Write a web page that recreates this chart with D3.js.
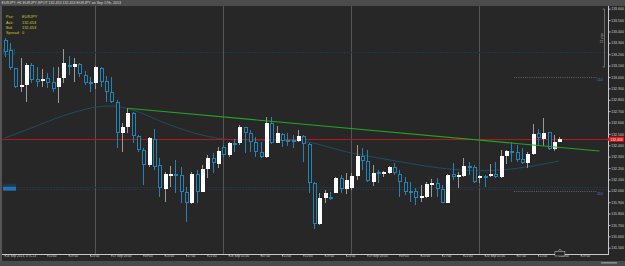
<!DOCTYPE html>
<html><head><meta charset="utf-8">
<script src="https://cdn.jsdelivr.net/npm/d3@7/dist/d3.min.js"></script>
<style>
html,body{margin:0;padding:0;background:#272727;overflow:hidden}
svg{display:block}
text{font-family:"Liberation Sans",Arial,sans-serif}
</style></head><body>
<svg id="c" width="625" height="266"></svg>
<script>
// ---- data (EURJPY H1) ----
const opens=[133.325,133.237,133.076,132.915,132.930,133.105,132.980,132.965,132.989,132.953,
132.915,132.994,133.105,133.090,133.111,133.017,132.953,132.945,133.076,132.965,
132.865,132.783,132.505,132.563,132.686,132.484,132.358,132.227,132.455,132.227,
132.016,132.133,132.148,132.139,131.992,131.890,132.148,131.992,132.191,132.286,
132.235,132.382,132.314,132.423,132.417,132.558,132.505,132.426,132.338,132.294,
132.598,132.423,132.499,132.449,132.449,132.440,132.481,132.409,132.066,131.708,
131.934,131.948,131.983,132.110,132.013,132.022,132.130,132.306,132.262,132.080,
132.168,132.148,132.159,132.212,132.148,132.080,132.001,132.001,131.939,131.948,
132.060,132.066,132.016,131.895,132.148,132.124,132.133,132.220,132.212,132.115,
132.133,132.130,132.148,132.119,132.306,132.352,132.344,132.277,132.241,132.321,
132.505,132.452,132.514,132.365,132.431];
const highs=[133.345,133.296,133.079,133.164,133.120,133.120,133.085,133.068,133.038,133.090,
133.090,133.246,133.184,133.164,133.126,133.053,133.003,133.097,133.088,133.009,
133.003,132.798,132.593,132.725,132.695,132.490,132.373,132.475,132.540,132.286,
132.168,132.218,132.271,132.212,132.036,132.168,132.183,132.227,132.314,132.329,
132.387,132.402,132.431,132.452,132.578,132.563,132.534,132.475,132.431,132.651,
132.646,132.569,132.510,132.505,132.490,132.534,132.490,132.417,132.080,131.978,
132.007,131.992,132.124,132.139,132.154,132.154,132.402,132.373,132.358,132.227,
132.183,132.177,132.220,132.241,132.183,132.124,132.080,132.022,132.051,132.080,
132.101,132.110,132.051,132.148,132.247,132.168,132.286,132.256,132.227,132.139,
132.139,132.233,132.256,132.358,132.358,132.426,132.402,132.373,132.344,132.587,
132.540,132.637,132.519,132.490,132.470];
const lows=[133.178,133.061,132.901,132.871,132.783,132.945,132.909,132.915,132.901,132.871,
132.769,132.945,133.017,132.959,133.003,132.930,132.871,132.892,132.915,132.783,
132.769,132.373,132.344,132.505,132.417,132.344,132.051,132.212,132.183,131.948,
131.904,132.036,131.978,131.890,131.728,131.884,131.890,131.987,132.110,132.159,
132.198,132.300,132.294,132.338,132.402,132.329,132.344,132.300,132.286,132.286,
132.411,132.417,132.387,132.396,132.373,132.431,132.256,131.978,131.662,131.699,
131.890,131.919,131.978,131.978,131.972,132.007,132.095,132.183,132.080,132.042,
132.066,132.119,132.148,132.139,131.948,131.963,131.904,131.875,131.904,131.939,
131.948,131.948,131.890,131.890,132.095,132.027,132.119,132.139,132.071,132.066,
132.036,132.119,132.115,132.110,132.235,132.256,132.256,132.235,132.198,132.314,
132.394,132.394,132.358,132.352,132.426];
const closes=[133.222,133.076,132.915,132.932,133.105,132.974,132.959,132.982,132.950,132.894,
132.989,133.120,133.090,133.111,133.024,132.945,132.945,133.085,132.959,132.865,
132.778,132.505,132.561,132.684,132.481,132.358,132.227,132.461,132.212,132.022,
132.145,132.148,132.139,131.992,131.890,132.148,131.992,132.191,132.286,132.241,
132.352,132.314,132.423,132.417,132.563,132.505,132.426,132.338,132.294,132.598,
132.423,132.505,132.440,132.440,132.440,132.481,132.409,132.066,131.708,131.934,
131.983,131.939,132.110,132.013,132.095,132.130,132.306,132.262,132.086,132.159,
132.154,132.162,132.212,132.154,132.080,131.992,131.996,131.934,131.954,132.060,
132.071,132.013,131.895,132.139,132.119,132.139,132.218,132.206,132.080,132.133,
132.130,132.148,132.119,132.306,132.352,132.338,132.271,132.247,132.321,132.496,
132.461,132.510,132.365,132.431,132.453];

const maIdx =[0,5,12,18,20,24,30,37,42,48,55,65,74,82,89,93,99,104];
const maVals=[132.464,132.552,132.675,132.741,132.745,132.710,132.596,132.490,132.451,132.446,132.438,132.332,132.257,132.198,132.177,132.183,132.218,132.262];

const trendIdx=[23,111.5];
const trendVals=[132.725,132.350];

const priceTicks=[133.6,133.5,133.4,133.3,133.2,133.1,133.0,132.9,132.8,132.7,132.6,132.5,132.4,132.3,132.2,132.1,132.0,131.9,131.8,131.7,131.6,131.5];
const timeTickIdx=[0,8,12,16,20,26,30,34,38,42,48,52,56,60,64,68,74,78,82,86,90,96,100,104,108];
const timeTickLabels=["16 Sep 2013, UTC+3","15:00","19:00","23:00","17 Sep 03:00","09:00","13:00","17:00","21:00","18 Sep 01:00","07:00","11:00","15:00","19:00","23:00","19 Sep 03:00","09:00","13:00","17:00","21:00","20 Sep 01:00","07:00","11:00","15:00","19:00"];
const daySepIdx=[17,41,65,89];
const lastPrice=132.453;
const levelLines=[133.222,132.036];
const orderLines=[133.000,132.000];
const orderLabel="110";
const orderFromIdx=95.5, orderToIdx=111;
const bracketVals=[133.597,133.088];
const bracketText="51 pips";
const infoLabels=["Pair:","Ask:","Bid:","Spread:"];
const infoValues=["EURJPY","132.453","132.453","0"];
const titleText="EURJPY, H1  EURJPY-SPOT  132.453  132.453  EURJPY on Sep 17th, 2013";

// ---- layout ----
const W=625,H=266;
const plotL=2, plotR=608, plotT=6, plotB=254;
const svg=d3.select("#c");
const x=d3.scaleLinear().domain([0,104]).range([4.7,559.4]);
const y=d3.scaleLinear().domain([131.5,133.6]).range([247.7,8.7]);

svg.append("rect").attr("width",W).attr("height",H).attr("fill","#272727");
svg.append("rect").attr("x",0).attr("y",0).attr("width",2).attr("height",H).attr("fill","#555");

// day separators
svg.append("g").selectAll("line").data(daySepIdx).join("line")
  .attr("x1",d=>Math.round(x(d))+0.5).attr("x2",d=>Math.round(x(d))+0.5)
  .attr("y1",plotT).attr("y2",plotB).attr("stroke","#555").attr("stroke-width",1);

// level lines (dark teal)
svg.append("g").selectAll("line").data(levelLines).join("line")
  .attr("x1",plotL).attr("x2",plotR)
  .attr("y1",d=>Math.round(y(d))+0.5).attr("y2",d=>Math.round(y(d))+0.5)
  .attr("stroke","#1d3946").attr("stroke-width",1).attr("stroke-dasharray","2,1");
svg.append("line").attr("x1",16).attr("x2",plotR)
  .attr("y1",Math.round(y(levelLines[1]))+2.5).attr("y2",Math.round(y(levelLines[1]))+2.5)
  .attr("stroke","#2d363c").attr("stroke-dasharray","1,1");
svg.append("rect").attr("x",3.5).attr("y",y(levelLines[0])-2.5).attr("width",11).attr("height",5)
  .attr("fill","#1b2a31").attr("stroke","#24566c").attr("stroke-width",0.7);
svg.append("rect").attr("x",3).attr("y",y(levelLines[1])-3).attr("width",13).attr("height",3)
  .attr("fill","#1c3a4a");
svg.append("rect").attr("x",3).attr("y",y(levelLines[1])).attr("width",13).attr("height",4)
  .attr("fill","#1f74b2");

// order lines (gray dotted) with labels
const og=svg.append("g");
og.selectAll("line").data(orderLines).join("line")
  .attr("x1",x(orderFromIdx)).attr("x2",x(orderToIdx))
  .attr("y1",d=>Math.round(y(d))+0.5).attr("y2",d=>Math.round(y(d))+0.5)
  .attr("stroke","#737373").attr("stroke-width",0.8).attr("stroke-dasharray","1,1.2");
og.selectAll("text").data(orderLines).join("text")
  .attr("x",597).attr("y",d=>y(d)+3.8).text(orderLabel)
  .attr("font-size",3.6).attr("fill","#3f86d8");

// moving average
svg.append("path").datum(maIdx.map((d,i)=>[d,maVals[i]]))
  .attr("d",d3.line().x(d=>x(d[0])).y(d=>y(d[1])).curve(d3.curveMonotoneX))
  .attr("fill","none").attr("stroke","#1c4e62").attr("stroke-width",1);

// current price line
svg.append("line").attr("x1",plotL).attr("x2",plotR)
  .attr("y1",Math.round(y(lastPrice))+0.5).attr("y2",Math.round(y(lastPrice))+0.5)
  .attr("stroke","#b3161b").attr("stroke-width",1);

// candles
const idx=d3.range(opens.length);
const cg=svg.append("g").attr("shape-rendering","crispEdges");
idx.forEach(i=>{
  const c=Math.round(x(i));
  const up=closes[i]>opens[i];
  const col=up?"#9a9a9a":"#2583b3";
  const top=Math.round(y(Math.max(opens[i],closes[i])));
  const bot=Math.max(Math.round(y(Math.min(opens[i],closes[i]))),top+1);
  const hi=Math.round(y(highs[i])), lo=Math.round(y(lows[i]));
  cg.append("line").attr("x1",c+0.5).attr("x2",c+0.5).attr("y1",hi).attr("y2",top).attr("stroke",col);
  cg.append("line").attr("x1",c+0.5).attr("x2",c+0.5).attr("y1",bot).attr("y2",lo).attr("stroke",col);
  if(up){
    cg.append("rect").attr("x",c-1).attr("y",top).attr("width",4).attr("height",Math.max(bot-top,1.5)).attr("fill","#ffffff");
  }else{
    cg.append("rect").attr("x",c-0.5).attr("y",top+0.5).attr("width",3).attr("height",Math.max(bot-top-1,0.5))
      .attr("fill","#262626").attr("stroke","#2583b3").attr("stroke-width",1);
  }
});

// trend line
svg.append("line").attr("x1",x(trendIdx[0])).attr("y1",y(trendVals[0]))
  .attr("x2",x(trendIdx[1])).attr("y2",y(trendVals[1]))
  .attr("stroke","#1fa51f").attr("stroke-width",1.1);

// bracket top-right
const bx=604.5;
svg.append("path").attr("d",`M${bx-2},${y(bracketVals[0])}H${bx}V${y(bracketVals[1])}H${bx-2}`)
  .attr("fill","none").attr("stroke","#a0a0a0").attr("stroke-width",0.6);
svg.append("text").attr("transform",`translate(602.8,${(y(bracketVals[0])+y(bracketVals[1]))/2}) rotate(-90)`)
  .attr("text-anchor","middle").attr("font-size",3).attr("fill","#b0b0b0").text(bracketText);

// right price axis
const ya=svg.append("g").attr("transform",`translate(${plotR},0)`)
  .call(d3.axisRight(y).tickValues(priceTicks).tickSize(2.5).tickFormat(d3.format(".3f")));
ya.select(".domain").remove();
ya.selectAll(".tick line").attr("stroke","#bdbdbd");
ya.selectAll(".tick text").attr("font-size",3.5).attr("fill","#cfcfcf").attr("x",3.2)
  .attr("font-family","Liberation Sans, Arial, sans-serif");
svg.append("line").attr("x1",plotR+0.5).attr("x2",plotR+0.5).attr("y1",plotT).attr("y2",plotB)
  .attr("stroke","#c8c8c8").attr("stroke-width",1);

// last price tag
const ly=y(lastPrice);
svg.append("path").attr("d",`M${plotR-1},${ly}L${plotR+1.5},${ly-2.5}H624V${ly+2.5}H${plotR+1.5}Z`).attr("fill","#e3121b");
svg.append("text").attr("x",plotR+2.5).attr("y",ly+1.3).attr("font-size",3.4).attr("fill","#fff").text(d3.format(".3f")(lastPrice));

// time axis
const xa=svg.append("g").attr("transform",`translate(0,${plotB})`)
  .call(d3.axisBottom(x).tickValues(timeTickIdx).tickSize(2.5).tickFormat((d,i)=>timeTickLabels[i]));
xa.select(".domain").remove();
xa.selectAll(".tick line").attr("stroke","#bdbdbd");
xa.selectAll(".tick text").attr("font-size",3.2).attr("fill","#cfcfcf").attr("text-anchor","start")
  .attr("x",0.8).attr("y",1.2).attr("dy","0.71em").attr("font-family","Liberation Sans, Arial, sans-serif");
svg.append("line").attr("x1",plotL).attr("x2",plotR+1).attr("y1",plotB+0.5).attr("y2",plotB+0.5)
  .attr("stroke","#c8c8c8").attr("stroke-width",1);
const lastX=x(opens.length-1);
svg.append("rect").attr("x",lastX-4.5).attr("y",plotB-2.5).attr("width",10).attr("height",4.5)
  .attr("fill","#272727").attr("stroke","#c8c8c8").attr("stroke-width",0.5);
svg.append("path").attr("d",`M${lastX-1.5},${plotB-2.5}L${lastX+0.5},${plotB-5}L${lastX+2.5},${plotB-2.5}`)
  .attr("fill","none").attr("stroke","#c8c8c8").attr("stroke-width",0.5);

// bottom bar
svg.append("rect").attr("x",0).attr("y",261).attr("width",W).attr("height",5).attr("fill","#4a4a4a");
svg.append("rect").attr("x",601).attr("y",262).attr("width",16).attr("height",1.6).attr("fill","#8a8a8a");

// title bar
svg.append("rect").attr("x",0).attr("y",0).attr("width",W).attr("height",6).attr("fill","#4c4c4c");
svg.append("text").attr("x",1.5).attr("y",4.4).attr("font-size",3.6).attr("fill","#dcdcdc").text(titleText);

// info box
const ig=svg.append("g").attr("font-size",3.9).attr("fill","#cccc22");
infoLabels.forEach((t,i)=>{
  ig.append("text").attr("x",6).attr("y",18.2+i*5.4).text(t);
  ig.append("text").attr("x",22).attr("y",18.2+i*5.4).text(infoValues[i]);
});
</script>
</body></html>
